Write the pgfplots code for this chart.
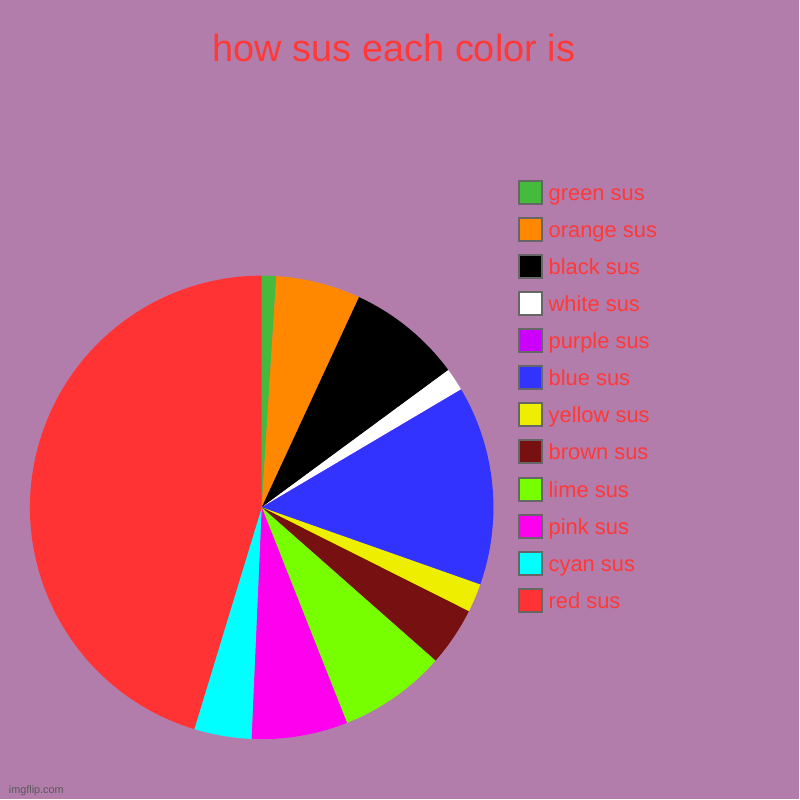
\documentclass[border=0pt]{standalone}
\usepackage{pgfplots}
\pgfplotsset{compat=1.18}
\usepackage{pgfplotstable}
\usepackage{fontspec}
\setmainfont{Liberation Sans}

\definecolor{bg}{HTML}{B27DAB}
\definecolor{txtred}{HTML}{FF3838}
\definecolor{boxgray}{HTML}{666666}
\definecolor{cgreen}{HTML}{44BB3C}
\definecolor{corange}{HTML}{FF8800}
\definecolor{cblack}{HTML}{000000}
\definecolor{cwhite}{HTML}{FFFFFF}
\definecolor{cpurple}{HTML}{CC00FF}
\definecolor{cblue}{HTML}{3333FF}
\definecolor{cyellow}{HTML}{EEEE00}
\definecolor{cbrown}{HTML}{771111}
\definecolor{clime}{HTML}{77FF00}
\definecolor{cpink}{HTML}{FF00EE}
\definecolor{ccyan}{HTML}{00FFFF}
\definecolor{cred}{HTML}{FF3333}

% share of each colour, in percent, clockwise from 12 o'clock
\pgfplotstableread[col sep=comma]{
name,value,col
green sus,1.0,cgreen
orange sus,5.9,corange
black sus,8.0,cblack
white sus,1.6,cwhite
purple sus,0.0,cpurple
blue sus,13.9,cblue
yellow sus,2.0,cyellow
brown sus,4.1,cbrown
lime sus,7.5,clime
pink sus,6.7,cpink
cyan sus,4.0,ccyan
red sus,45.3,cred
}\sustable

\begin{document}
\begin{tikzpicture}
\fill[bg] (0,0) rectangle (20cm,20cm);
\node[text=txtred, font=\fontsize{27}{32}\selectfont] at (9.86cm,18.8cm) {how sus each color is};
\node[anchor=west, text=black!65, font=\fontsize{7.7}{9}\selectfont] at (0.1cm,0.22cm) {imgflip.com};
\begin{axis}[
    at={(6.55cm,7.3cm)}, anchor=center,
    x=5.8cm, y=5.8cm,
    xmin=-1, xmax=1, ymin=-1, ymax=1,
    hide axis, clip=false,
    legend image code/.code={\draw[#1,draw=boxgray,line width=0.05cm] (0.025cm,-0.2875cm) rectangle (0.6cm,0.2875cm);},
    legend cell align=left,
    legend style={
        at={(axis cs:1.1034,1.4138)}, anchor=north west,
        draw=none, fill=none, inner sep=0pt,
        text=txtred, font=\fontsize{15.6}{18}\selectfont,
        row sep=0.3025cm,
        nodes={inner sep=0pt, text height=0.4cm, text depth=0pt},
        /tikz/every odd column/.append style={column sep=0.15cm},
    },
]
\pgfplotstablegetrowsof{\sustable}
\pgfmathtruncatemacro\lastrow{\pgfplotsretval-1}
\def\cum{0}
\pgfplotsforeachungrouped \i in {0,...,\lastrow}{
    \pgfplotstablegetelem{\i}{value}\of\sustable \let\v\pgfplotsretval
    \pgfplotstablegetelem{\i}{col}\of\sustable \let\c\pgfplotsretval
    \pgfplotstablegetelem{\i}{name}\of\sustable \let\n\pgfplotsretval
    \pgfmathsetmacro\aa{90-3.6*\cum}
    \pgfmathsetmacro\cum{\cum+\v}
    \pgfmathsetmacro\bb{90-3.6*\cum}
    \edef\temp{\noexpand\fill[\c] (axis cs:0,0) -- (axis cs:{cos(\aa)},{sin(\aa)})
        arc[start angle=\aa, end angle=\bb, radius=5.8cm] -- cycle;}
    \temp
    \edef\temp{\noexpand\addlegendimage{fill=\c}\noexpand\addlegendentry{\n}}
    \temp
}
\end{axis}
\end{tikzpicture}
\end{document}
